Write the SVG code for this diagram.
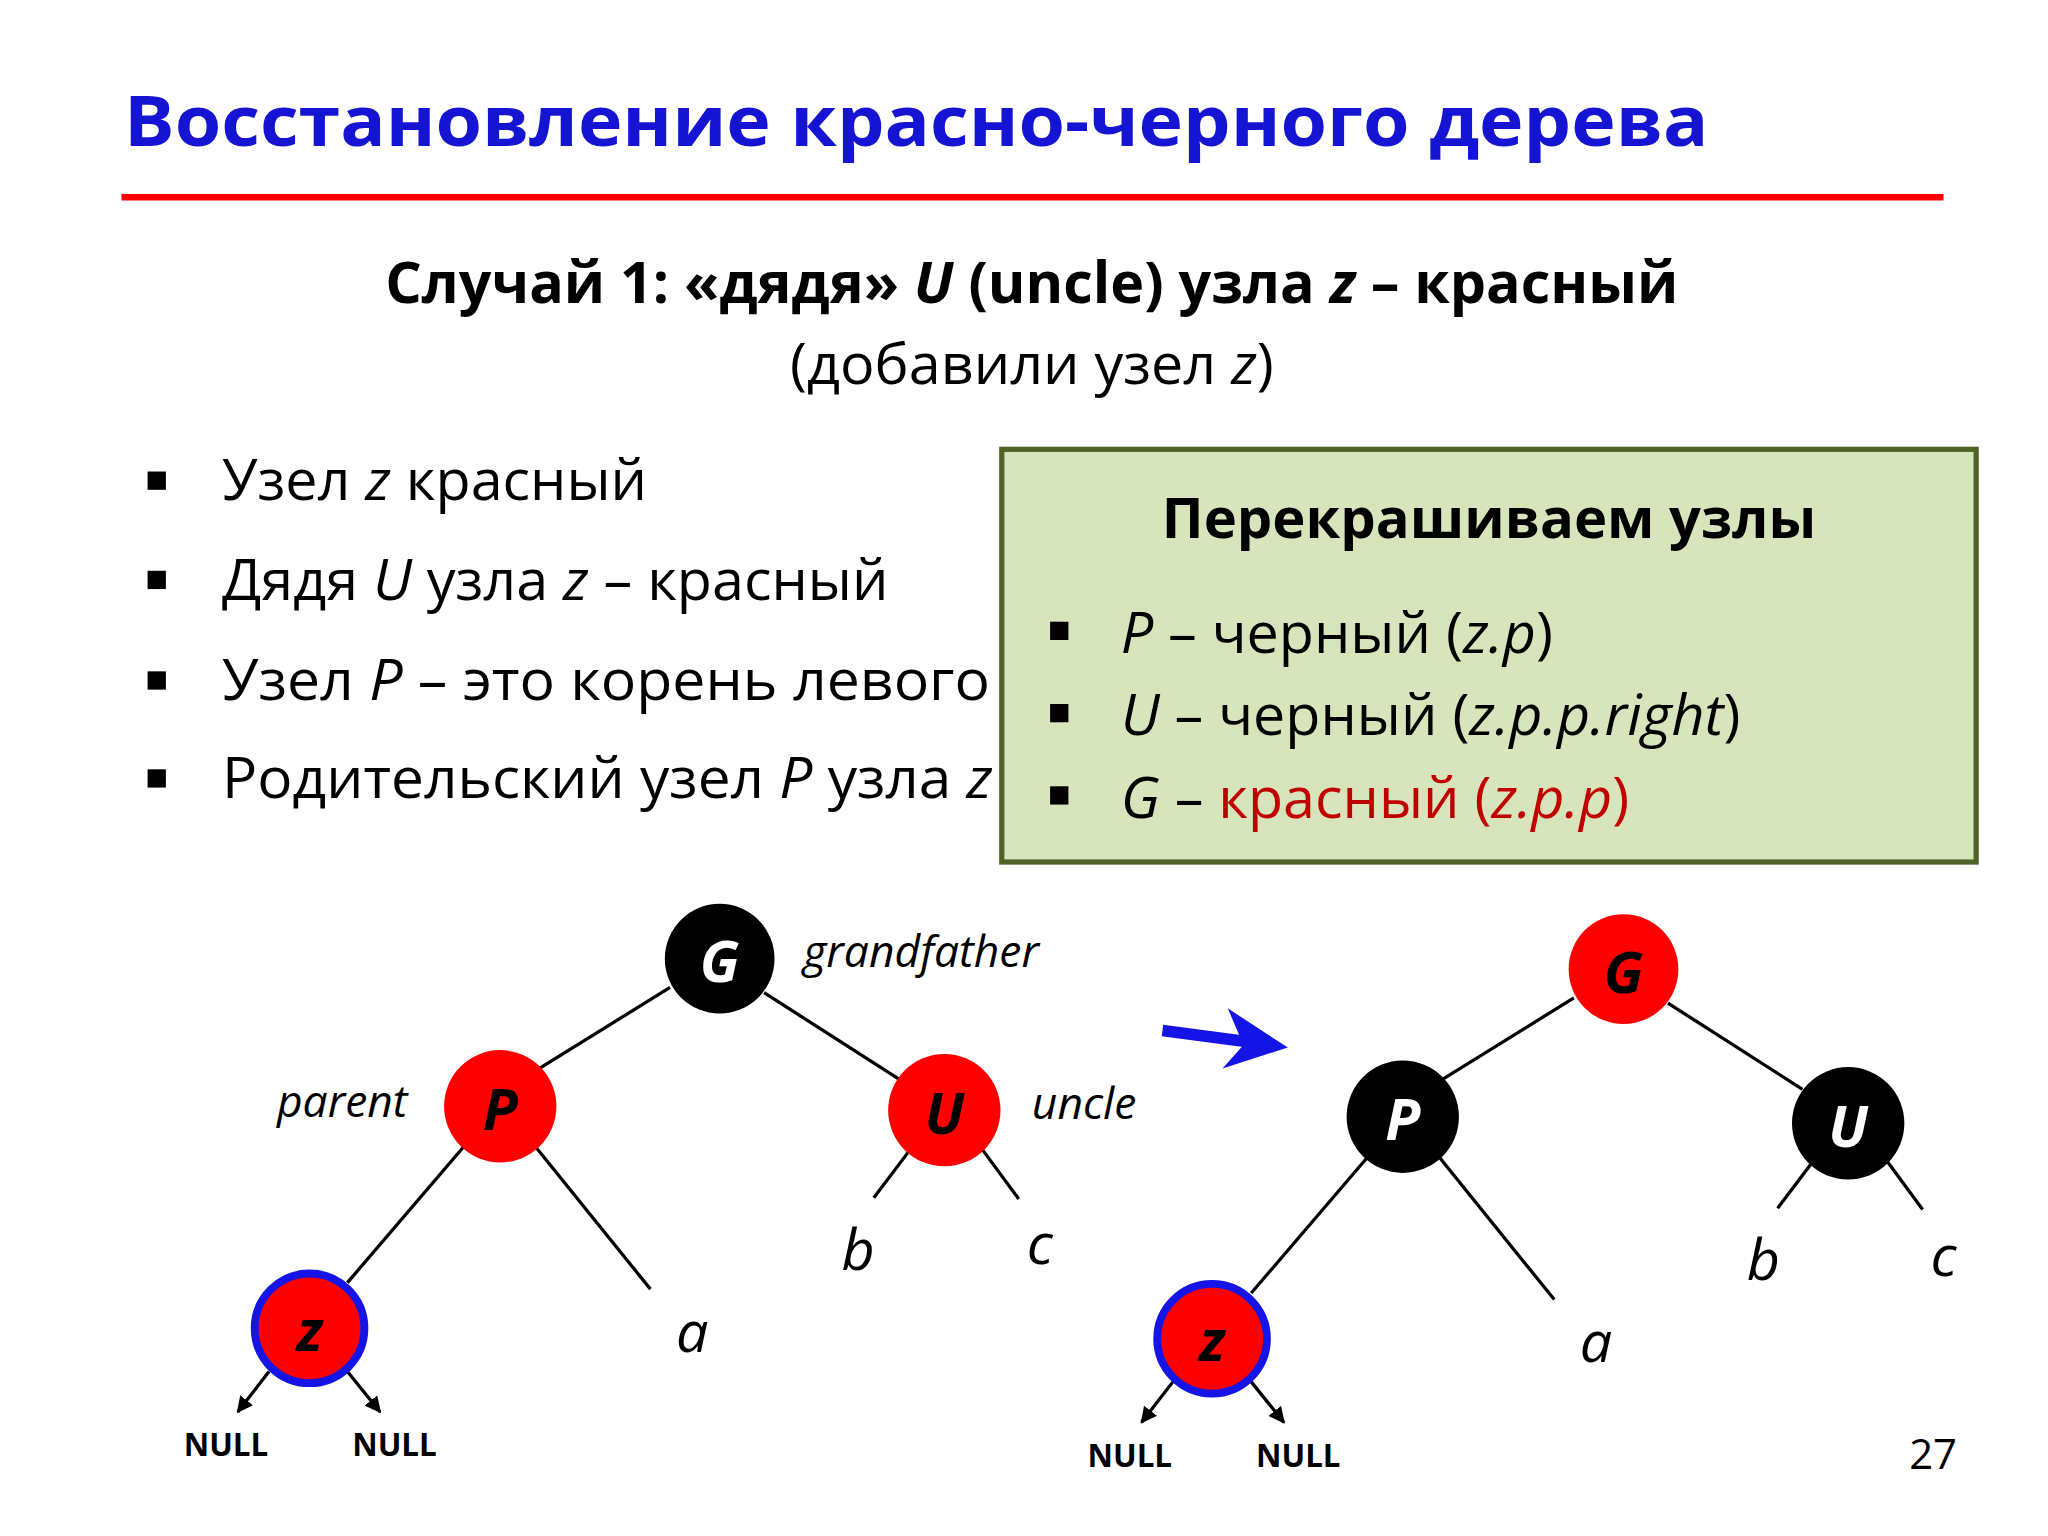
<svg xmlns="http://www.w3.org/2000/svg" width="2048" height="1536" viewBox="0 0 2048 1536">
<defs>
<style>
text{font-family:"Open Sans","Liberation Sans",sans-serif}
.b{font-weight:bold}.i{font-style:italic}
.t{font-size:44px;fill:#000}
.node{font-size:44px;font-weight:bold;font-style:italic;text-anchor:middle}
.lbl{font-size:34px;font-style:italic}
.leaf{font-size:44px;font-style:italic;text-anchor:middle}
.null{font-size:24px;font-weight:bold;text-anchor:middle}
.edge{stroke:#000;stroke-width:2.5;fill:none}
</style>
<marker id="ah" viewBox="0 0 10 10" refX="9" refY="5" markerWidth="5" markerHeight="5" orient="auto"><path d="M0,0L10,5L0,10z" fill="#000"/></marker>
</defs>
<rect width="2048" height="1536" fill="#fff"/>
<g transform="scale(1.30612)">
<text x="95" y="112" class="b" font-size="54" fill="#1414d2" textLength="1213" lengthAdjust="spacingAndGlyphs">Восстановление красно-черного дерева</text>
<rect x="93" y="148.500" width="1395" height="5" fill="#f00"/>
<text x="790" y="232" class="b" font-size="44" text-anchor="middle" textLength="990" lengthAdjust="spacingAndGlyphs">Случай 1: «дядя» <tspan class="i">U</tspan> (uncle) узла <tspan class="i">z</tspan> – красный</text>
<text x="790" y="294" font-size="44" text-anchor="middle">(добавили узел <tspan class="i">z</tspan>)</text>
<g id="bullets">
<rect x="113" y="361" width="14" height="14"/><text x="170" y="383" class="t">Узел <tspan class="i">z</tspan> красный</text>
<rect x="113" y="437" width="14" height="14"/><text x="170" y="459" class="t">Дядя <tspan class="i">U</tspan> узла <tspan class="i">z</tspan> – красный</text>
<rect x="113" y="514" width="14" height="14"/><text x="170" y="536" class="t" textLength="588" lengthAdjust="spacingAndGlyphs">Узел <tspan class="i">P</tspan> – это корень левого</text>
<rect x="113" y="589" width="14" height="14"/><text x="170" y="611" class="t" textLength="590" lengthAdjust="spacingAndGlyphs">Родительский узел <tspan class="i">P</tspan> узла <tspan class="i">z</tspan></text>
</g>
<g id="box">
<rect x="767" y="344" width="746" height="316" fill="#d8e4bc" stroke="#4f6228" stroke-width="4"/>
<text x="1140" y="412" class="b" font-size="43" text-anchor="middle">Перекрашиваем узлы</text>
<rect x="804" y="476" width="14" height="14"/><text x="858" y="500" class="t"><tspan class="i">P</tspan> – черный (<tspan class="i">z.p</tspan>)</text>
<rect x="804" y="539" width="14" height="14"/><text x="858" y="563" class="t"><tspan class="i">U</tspan> – черный (<tspan class="i">z.p.p.right</tspan>)</text>
<rect x="804" y="602" width="14" height="14"/><text x="858" y="626" class="t"><tspan class="i">G</tspan> – <tspan fill="#c00000">красный (<tspan class="i">z.p.p</tspan>)</tspan></text>
</g>
<g id="connectors">
<line class="edge" x1="513" y1="756" x2="413" y2="818"/>
<line class="edge" x1="585" y1="760" x2="688" y2="826"/>
<line class="edge" x1="355" y1="878" x2="266" y2="982"/>
<line class="edge" x1="410" y1="878" x2="498" y2="987"/>
<line class="edge" x1="697" y1="880" x2="669" y2="917"/>
<line class="edge" x1="752" y1="880" x2="780" y2="918"/>
<line class="edge" x1="206" y1="1050" x2="182" y2="1081" marker-end="url(#ah)"/>
<line class="edge" x1="266" y1="1050" x2="291" y2="1081" marker-end="url(#ah)"/>
<line class="edge" x1="1205" y1="764" x2="1105" y2="826"/>
<line class="edge" x1="1277" y1="768" x2="1380" y2="834"/>
<line class="edge" x1="1047" y1="886" x2="958" y2="990"/>
<line class="edge" x1="1102" y1="886" x2="1190" y2="995"/>
<line class="edge" x1="1389" y1="888" x2="1361" y2="925"/>
<line class="edge" x1="1444" y1="888" x2="1472" y2="926"/>
<line class="edge" x1="898" y1="1058" x2="874" y2="1089" marker-end="url(#ah)"/>
<line class="edge" x1="958" y1="1058" x2="983" y2="1089" marker-end="url(#ah)"/>
<line x1="890" y1="789" x2="958" y2="798" stroke="#1414e6" stroke-width="9"/>
<polygon points="986,802 940,772 952,800 936,818" fill="#1414e6"/>
</g>
<g id="G1"><circle cx="551" cy="734" r="42" fill="#000"/><text x="551" y="752" class="node" fill="#fff">G</text></g>
<g id="P1"><circle cx="383" cy="847" r="43" fill="#f00"/><text x="383" y="865" class="node">P</text></g>
<g id="U1"><circle cx="723" cy="850" r="43" fill="#f00"/><text x="723" y="868" class="node">U</text></g>
<g id="z1"><circle cx="237" cy="1017" r="42" fill="#f00" stroke="#1414e6" stroke-width="6"/><text x="237" y="1034" class="node">z</text></g>
<g id="G2"><circle cx="1243" cy="742" r="42" fill="#f00"/><text x="1243" y="760" class="node">G</text></g>
<g id="P2"><circle cx="1074" cy="855" r="43" fill="#000"/><text x="1074" y="873" class="node" fill="#fff">P</text></g>
<g id="U2"><circle cx="1415" cy="860" r="43" fill="#000"/><text x="1415" y="878" class="node" fill="#fff">U</text></g>
<g id="z2"><circle cx="928" cy="1025" r="42" fill="#f00" stroke="#1414e6" stroke-width="6"/><text x="928" y="1042" class="node">z</text></g>
<g id="labels">
<text x="615" y="740" class="lbl">grandfather</text>
<text x="212" y="855" class="lbl">parent</text>
<text x="790" y="857" class="lbl">uncle</text>
<text x="530" y="1035" class="leaf">a</text><text x="657" y="972" class="leaf">b</text><text x="796" y="968" class="leaf">c</text>
<text x="1222" y="1043" class="leaf">a</text><text x="1350" y="980" class="leaf">b</text><text x="1488" y="977" class="leaf">c</text>
<text x="173" y="1115" class="null">NULL</text><text x="302" y="1115" class="null">NULL</text>
<text x="865" y="1123" class="null">NULL</text><text x="994" y="1123" class="null">NULL</text>
<text x="1480" y="1125" font-size="32" text-anchor="middle">27</text>
</g>
</g>
</svg>
